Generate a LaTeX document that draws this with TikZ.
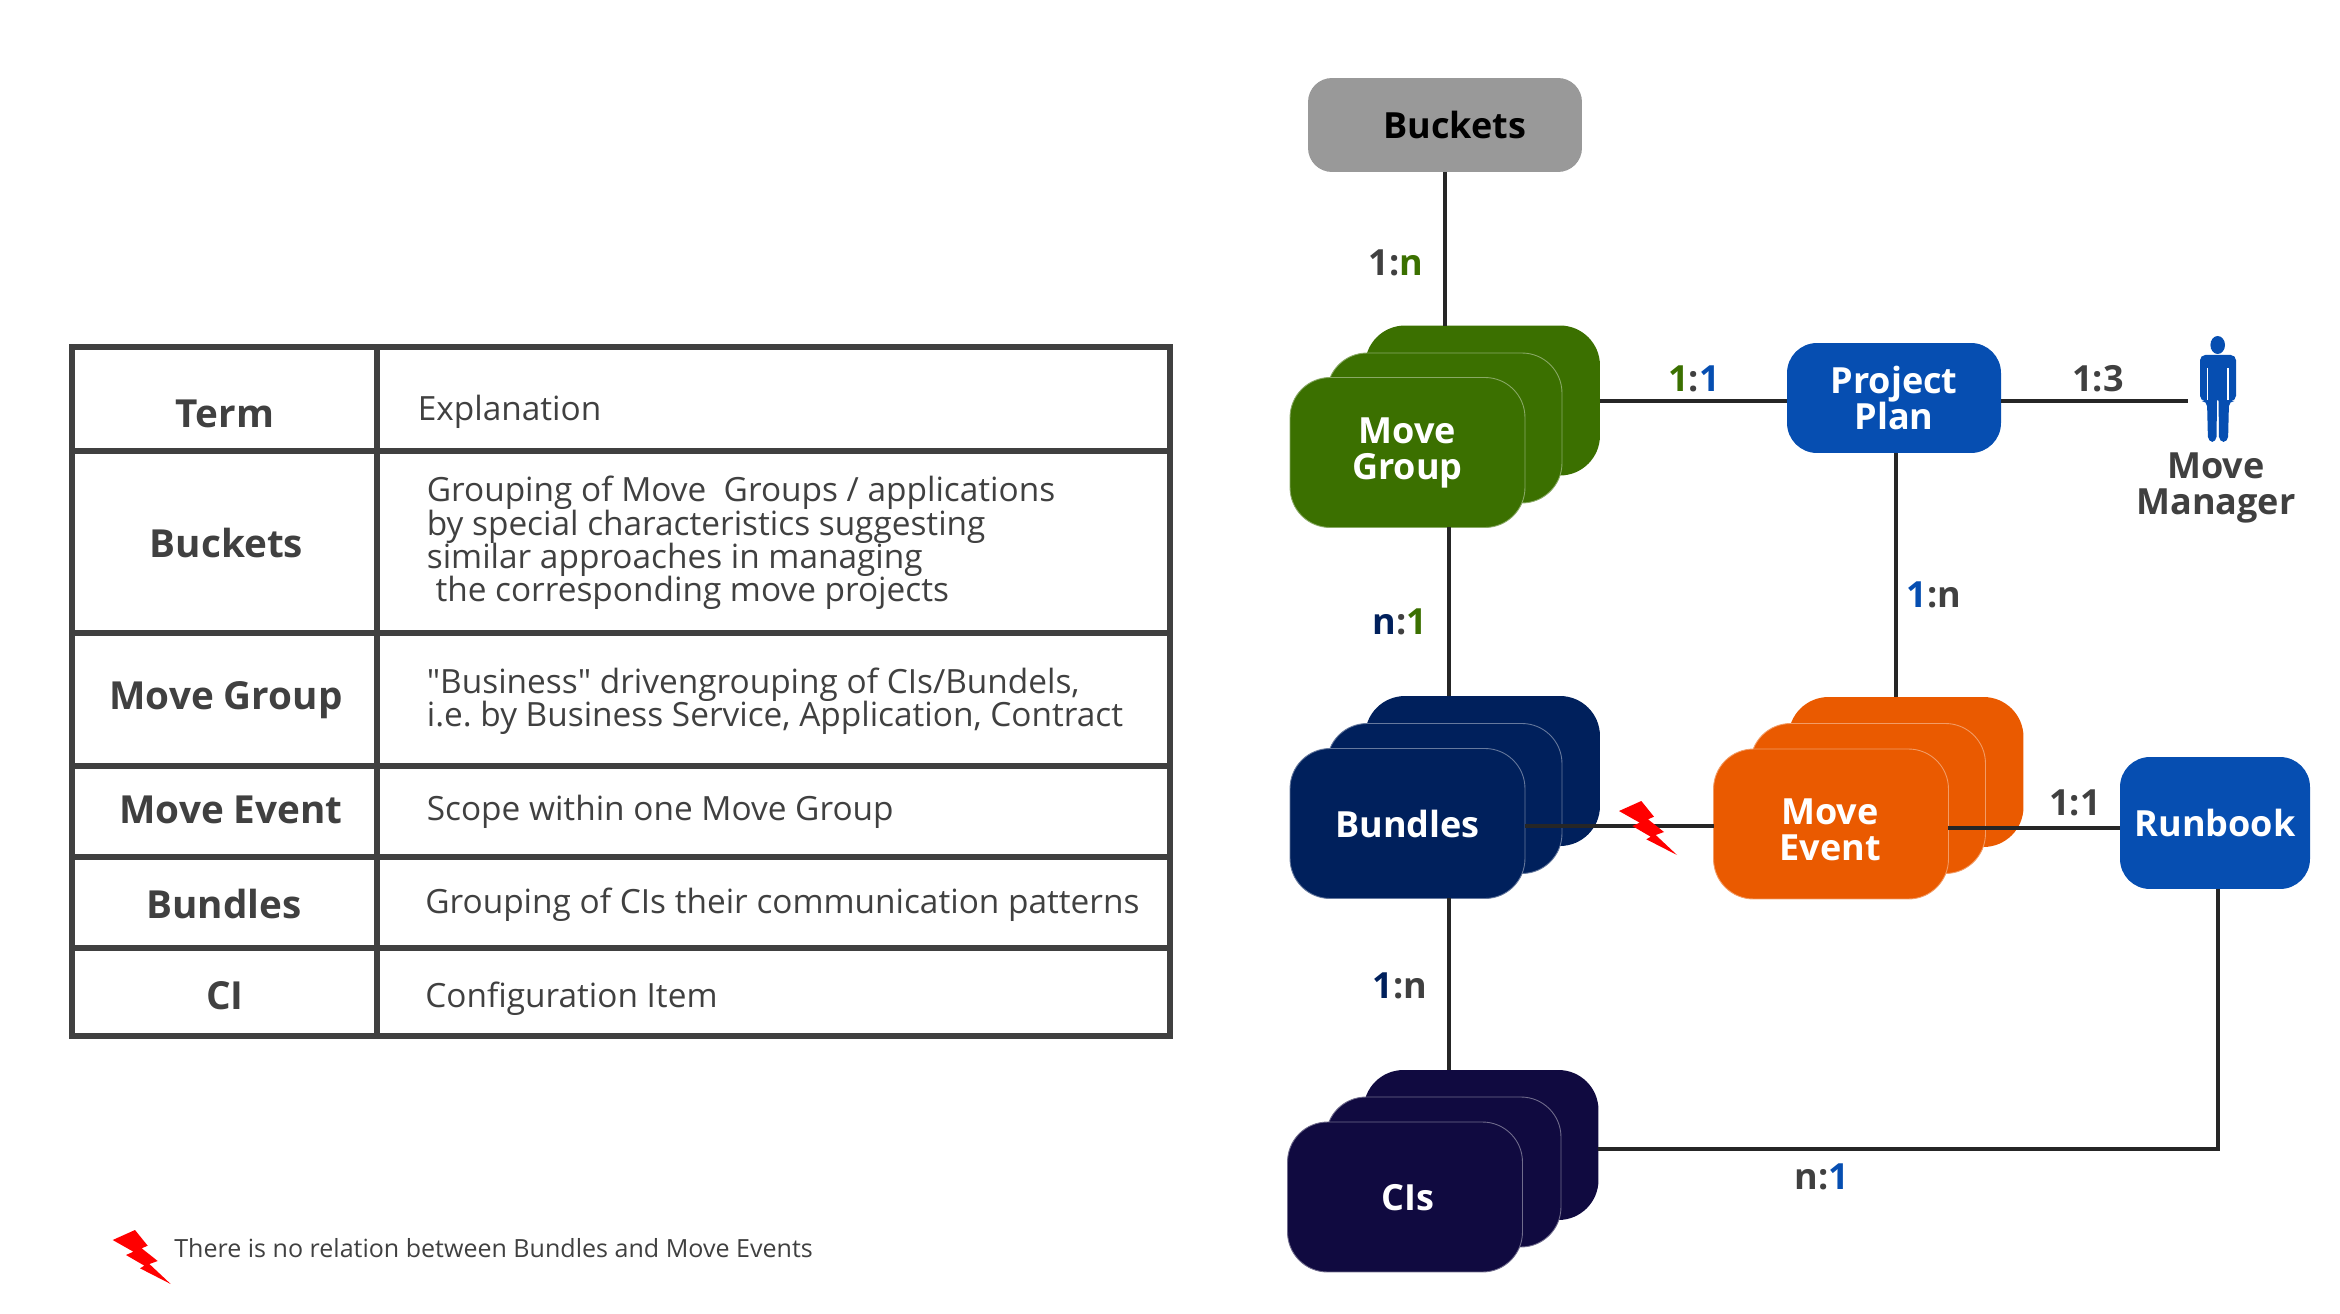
\documentclass[tikz,border=0pt]{standalone}
\usepackage{fontspec}
\setmainfont{Open Sans}
\newfontfamily\straightquote{Open Sans}
\frenchspacing
\definecolor{movegreen}{HTML}{3B7000}
\definecolor{planblue}{HTML}{064EB1}
\definecolor{bundlenavy}{HTML}{00205C}
\definecolor{eventorange}{HTML}{EA5A00}
\definecolor{cidark}{HTML}{100A40}
\definecolor{bucketgray}{HTML}{999999}
\definecolor{textgray}{HTML}{404040}
\definecolor{linedark}{HTML}{262626}
\tikzset{
    card/.style={rounded corners=40*0.02cm,minimum width=4.7cm,minimum height=3cm,
        inner sep=0pt,outer sep=0pt,align=center,text=white,
        font=\fontsize{20.5}{20.5}\selectfont\bfseries},
    cardtext/.style={inner sep=0pt,align=center,text=white,
        font=\fontsize{20.5}{20.5}\selectfont\bfseries},
    plainbox/.style={card,rounded corners=30*0.02cm},
    relation/.style={line width=2.3pt,color=linedark},
    ratio/.style={text=textgray,font=\fontsize{20.5}{22}\selectfont\bfseries,inner sep=0pt},
    term/.style={text=textgray,align=center,inner sep=0pt,
        font=\fontsize{22}{22}\selectfont\bfseries},
    meaning/.style={anchor=west,text=textgray,align=left,inner sep=0pt,
        font=\fontsize{19}{19}\selectfont},
    grid/.style={line width=3.4pt,color=textgray,line cap=rect}
}
\newcommand{\boltmark}[2]{
    \fill[red,shift={(#1,#2)}] (0,0) -- (22.3,-10) -- (35,5.7) -- (29,8.3) -- (45,21)
        -- (36.7,24) -- (58,44) -- (27.3,28.3) -- (31.7,25.7) -- (13.3,15) -- (20.7,11.7) -- cycle;
}
\begin{document}
\begin{tikzpicture}[x=0.02cm,y=-0.02cm]
    \useasboundingbox (0,0) rectangle (2340,1314);

    % table
    \draw[grid] (72,347) rectangle (1170,1036);
    \draw[grid] (377,347) -- (377,1036);
    \foreach \rowy in {451,633,766,857,948}
        \draw[grid] (72,\rowy) -- (1170,\rowy);

    \node[term] (termHead) at (225,414) {Term};
    \node[term] (termBuckets) at (226.5,543) {Buckets};
    \node[term] (termGroup) at (226,700) {Move Group};
    \node[term] (termEvent) at (231,810) {Move Event};
    \node[term] (termBundles) at (224,904) {Bundles};
    \node[term] (termCI) at (225,996) {CI};

    \node[meaning] (textHead) at (417.5,412) {Explanation};
    \node[meaning] (textBuckets) at (426.5,543) {Grouping of Move\ \ Groups / applications\\by special characteristics suggesting\\similar approaches in managing\\\ the corresponding move projects};
    \node[meaning] (textGroup) at (426.5,701) {{\straightquote"}Business{\straightquote"} drivengrouping of CIs/Bundels,\\i.e. by Business Service, Application, Contract};
    \node[meaning] (textEvent) at (426.5,812) {Scope within one Move Group};
    \node[meaning] (textBundles) at (425,904.5) {Grouping of CIs their communication patterns};
    \node[meaning] (textCI) at (425,999) {Configuration Item};

    % legend
    \boltmark{112.7}{1240}
    \node[meaning,font=\fontsize{14.25}{17}\selectfont] (legend) at (174,1248) {There is no relation between Bundles and Move Events};

    % top box
    \node[plainbox,fill=bucketgray,text=black,rounded corners=24*0.02cm,minimum width=5.48cm,minimum height=1.88cm]
        (buckets) at (1445,125) {\hspace*{0.4cm}Buckets};

    % move group stack
    \node[card,fill=movegreen] (groupBack) at (1482.5,400.5) {};
    \node[card,fill=movegreen,draw=movegreen!60!white,line width=0.5pt] (groupMid) at (1444.5,428) {};
    \node[card,fill=movegreen,draw=movegreen!60!white,line width=0.5pt] (groupFront) at (1407.5,452.5) {Move\\Group};

    % bundles stack
    \node[card,fill=bundlenavy] (bundlesBack) at (1482.5,771) {};
    \node[card,fill=bundlenavy,draw=bundlenavy!60!white,line width=0.5pt] (bundlesMid) at (1444.5,798.5) {};
    \node[card,fill=bundlenavy,draw=bundlenavy!60!white,line width=0.5pt] (bundlesFront) at (1407.5,823.5) {Bundles};

    % move event stack
    \node[card,fill=eventorange] (eventBack) at (1906,772) {};
    \node[card,fill=eventorange,draw=eventorange!60!white,line width=0.5pt] (eventMid) at (1868,798.5) {};
    \node[card,fill=eventorange,draw=eventorange!60!white,line width=0.5pt] (eventFront) at (1831,824) {};
    \node[cardtext] (eventText) at (1830,830) {Move\\Event};

    % CI stack
    \node[card,fill=cidark] (ciBack) at (1481,1145) {};
    \node[card,fill=cidark,draw=cidark!60!white,line width=0.5pt] (ciMid) at (1443.5,1172) {};
    \node[card,fill=cidark,draw=cidark!60!white,line width=0.5pt] (ciFront) at (1405,1197) {};
    \node[cardtext] (ciText) at (1408,1198) {CIs};

    % single boxes
    \node[plainbox,fill=planblue,minimum width=4.28cm,minimum height=2.2cm] (plan) at (1894,398) {Project\\Plan};
    \node[plainbox,fill=planblue,minimum width=3.8cm,minimum height=2.64cm] (runbook) at (2215,823) {Runbook};

    % person
    \fill[planblue] (2217.7,345) ellipse (7.3 and 9);
    \fill[planblue,rounded corners=3pt] (2200,355) -- (2236,355) -- (2236,401) -- (2229,401) -- (2228,442)
        -- (2219,442) -- (2218.5,396) -- (2217,396) -- (2216.5,442) -- (2208,442) -- (2207,401) -- (2200,401) -- cycle;
    \draw[white,line width=0.8pt] (2207.5,368) -- (2207.5,400);
    \draw[white,line width=0.8pt] (2228,368) -- (2228,400);
    \coordinate (personHand) at (2188,401);
    \node[term,font=\fontsize{20.5}{20.5}\selectfont\bfseries] (manager) at (2216,488) {Move\\Manager};

    % relations
    \coordinate (groupLine) at (1449,0);
    \coordinate (planLine) at (1896,0);
    \coordinate (runbookLine) at (2218,0);
    \draw[relation] (buckets.south) -- (buckets.south |- groupBack.north);
    \draw[relation] (groupLine |- groupFront.south) -- (groupLine |- bundlesBack.north);
    \draw[relation] (groupLine |- bundlesFront.south) -- (groupLine |- ciBack.north);
    \draw[relation] (groupBack.east |- 0,401) -- (plan.west |- 0,401);
    \draw[relation] (plan.east |- 0,401) -- (personHand);
    \draw[relation] (planLine |- plan.south) -- (planLine |- eventBack.north);
    \draw[relation] (bundlesFront.east |- 0,826) -- (eventFront.west |- 0,826);
    \draw[relation] (eventFront.east |- 0,828) -- (runbook.west |- 0,828);
    \draw[relation] (runbookLine |- runbook.south) -- (runbookLine |- 0,1149) -- (ciBack.east |- 0,1149);
    \boltmark{1619}{811}

    % ratio labels
    \node[ratio] (ratioBuckets) at (1396,263) {1:\textcolor{movegreen}{n}};
    \node[ratio] (ratioPlan) at (1694,379) {\textcolor{movegreen}{1}:\textcolor{planblue}{1}};
    \node[ratio] (ratioManager) at (2098,379) {1:3};
    \node[ratio] (ratioGroup) at (1400,622) {\textcolor{bundlenavy}{n}:\textcolor{movegreen}{1}};
    \node[ratio] (ratioEvent) at (1934,595) {\textcolor{planblue}{1}:n};
    \node[ratio] (ratioRunbook) at (2075,803) {1:1};
    \node[ratio] (ratioBundles) at (1400,986) {\textcolor{bundlenavy}{1}:n};
    \node[ratio] (ratioCI) at (1822,1177) {n:\textcolor{planblue}{1}};
\end{tikzpicture}
\end{document}
